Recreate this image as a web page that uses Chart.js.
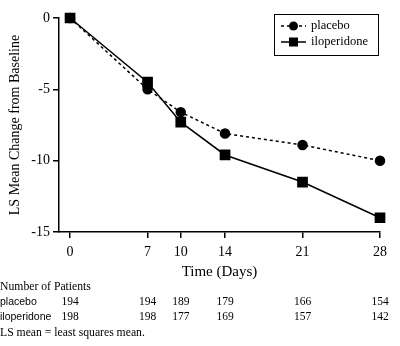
<!DOCTYPE html>
<html>
<head>
<meta charset="utf-8">
<script src="https://cdn.jsdelivr.net/npm/chart.js@4"></script>
<style>
  html, body { margin: 0; padding: 0; background: #fff; }
  #wrap { width: 400px; height: 346px; }
</style>
</head>
<body>
<div id="wrap"><canvas id="chart" width="400" height="346"></canvas></div>
<script>
  // ===== DATA =====
  const days = [0, 7, 10, 14, 21, 28];
  const placebo = [0, -5.0, -6.6, -8.1, -8.9, -10.0];
  const iloperidone = [0, -4.5, -7.3, -9.6, -11.5, -14.0];
  const yTicks = [0, -5, -10, -15];
  const seriesNames = ["placebo", "iloperidone"];
  const patientsPlacebo = [194, 194, 189, 179, 166, 154];
  const patientsIloperidone = [198, 198, 177, 169, 157, 142];

  const serif = "'Liberation Serif', 'Times New Roman', serif";

  // legend box in the upper right corner
  const legendBox = {
    id: "legendBox",
    afterDraw(chart) {
      const ctx = chart.ctx;
      ctx.save();
      ctx.strokeStyle = "#000";
      ctx.lineWidth = 1;
      ctx.strokeRect(274.5, 14.5, 104, 41);
      chart.data.datasets.forEach((ds, i) => {
        const y = 26 + i * 16;
        ctx.beginPath();
        ctx.setLineDash(ds.borderDash || []);
        ctx.lineWidth = ds.borderWidth;
        ctx.moveTo(281, y);
        ctx.lineTo(306, y);
        ctx.stroke();
        ctx.setLineDash([]);
        ctx.fillStyle = "#000";
        if (ds.pointStyle === "rect") {
          ctx.fillRect(289, y - 4.5, 9, 9);
        } else {
          ctx.beginPath();
          ctx.arc(293.5, y, 4.5, 0, Math.PI * 2);
          ctx.fill();
        }
        ctx.font = "12.5px " + serif;
        ctx.textBaseline = "middle";
        ctx.fillText(ds.label, 311, y);
      });
      ctx.restore();
    }
  };

  // patient count table below the axis
  const patientTable = {
    id: "patientTable",
    afterDraw(chart) {
      const ctx = chart.ctx;
      const x = chart.scales.x;
      ctx.save();
      ctx.fillStyle = "#000";
      ctx.textBaseline = "middle";
      ctx.font = "11.7px " + serif;
      ctx.textAlign = "left";
      ctx.fillText("Number of Patients", 0, 287);
      ctx.fillText("LS mean = least squares mean.", 0, 333);
      ctx.font = "10.5px 'Liberation Sans', sans-serif";
      ctx.fillText(seriesNames[0], 0, 302);
      ctx.fillText(seriesNames[1], 0, 317);
      ctx.font = "11.5px " + serif;
      ctx.textAlign = "center";
      days.forEach((d, i) => {
        const px = x.getPixelForValue(d);
        ctx.fillText(String(patientsPlacebo[i]), px, 302);
        ctx.fillText(String(patientsIloperidone[i]), px, 317);
      });
      ctx.restore();
    }
  };

  const toPoints = (vals) => vals.map((v, i) => ({ x: days[i], y: v }));

  new Chart(document.getElementById("chart"), {
    type: "line",
    data: {
      datasets: [
        {
          label: seriesNames[0],
          data: toPoints(placebo),
          borderColor: "#000",
          backgroundColor: "#000",
          borderWidth: 1.5,
          borderDash: [3, 3],
          pointStyle: "circle",
          pointRadius: 4.5,
          clip: false
        },
        {
          label: seriesNames[1],
          data: toPoints(iloperidone),
          borderColor: "#000",
          backgroundColor: "#000",
          borderWidth: 1.5,
          pointStyle: "rect",
          pointRadius: 6.5,
          clip: false
        }
      ]
    },
    options: {
      responsive: false,
      animation: false,
      layout: { padding: { top: 18, right: 20, left: 0, bottom: 65 } },
      plugins: { legend: { display: false }, tooltip: { enabled: false } },
      scales: {
        x: {
          type: "linear",
          min: -1,
          max: 28,
          afterBuildTicks: (s) => { s.ticks = days.map(v => ({ value: v })); },
          afterFit: (s) => { s.height = 49; },
          grid: { drawOnChartArea: false, drawTicks: true, tickLength: 6, color: "#000", lineWidth: 1.5 },
          border: { display: true, color: "#000", width: 1.5 },
          ticks: { color: "#000", font: { family: serif, size: 14 }, padding: 6, autoSkip: false, maxRotation: 0 },
          title: { display: true, text: "Time (Days)", color: "#000", font: { family: serif, size: 15 }, padding: { top: 2, bottom: 0 } }
        },
        y: {
          min: -15,
          max: 0,
          afterBuildTicks: (s) => { s.ticks = yTicks.map(v => ({ value: v })); },
          afterFit: (s) => { s.width = 59; },
          grid: { drawOnChartArea: false, drawTicks: true, tickLength: 6, color: "#000", lineWidth: 1.5 },
          border: { display: true, color: "#000", width: 1.5 },
          ticks: { color: "#000", font: { family: serif, size: 14 }, padding: 3 },
          title: { display: true, text: "LS Mean Change from Baseline", color: "#000", font: { family: serif, size: 14 }, padding: { top: 7, bottom: 0 } }
        }
      }
    },
    plugins: [legendBox, patientTable]
  });
</script>
</body>
</html>
